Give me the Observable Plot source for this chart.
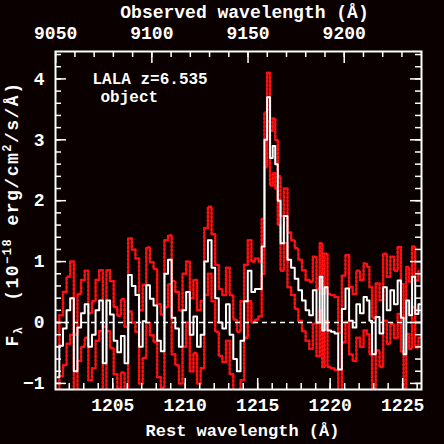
<!DOCTYPE html>
<html>
<head>
<meta charset="utf-8">
<script src="https://cdn.jsdelivr.net/npm/d3@7"></script>
<script src="https://cdn.jsdelivr.net/npm/@observablehq/plot@0.6"></script>
<style>
  html, body { margin: 0; padding: 0; background: #0a0000; }
</style>
</head>
<body>
<div id="chart"></div>
<script>
// Rest-frame wavelength of each spectral bin (Å)
const restWave = [1201.19,1201.44,1201.69,1201.94,1202.19,1202.44,1202.69,1202.94,1203.19,1203.44,
  1203.69,1203.94,1204.19,1204.44,1204.69,1204.94,1205.19,1205.44,1205.69,1205.94,
  1206.19,1206.44,1206.69,1206.94,1207.19,1207.44,1207.69,1207.94,1208.19,1208.44,
  1208.69,1208.94,1209.19,1209.44,1209.69,1209.94,1210.19,1210.44,1210.69,1210.94,
  1211.19,1211.44,1211.69,1211.94,1212.19,1212.44,1212.69,1212.94,1213.19,1213.44,
  1213.69,1213.94,1214.19,1214.44,1214.69,1214.94,1215.17,1215.38,1215.55,1215.75,
  1215.95,1216.12,1216.30,1216.47,1216.68,1216.93,1217.18,1217.43,1217.68,1217.93,
  1218.18,1218.43,1218.68,1218.93,1219.18,1219.38,1219.53,1219.70,1219.93,1220.18,
  1220.43,1220.68,1220.93,1221.18,1221.43,1221.68,1221.93,1222.18,1222.43,1222.63,
  1222.78,1223.00,1223.28,1223.53,1223.78,1224.03,1224.28,1224.53,1224.78,1224.98,
  1225.15,1225.35,1225.55,1225.75,1225.98,1226.20];
// Flux density (10^-18 erg/cm^2/s/Å)
const flux = [-0.9,-0.38,-0.1,0.2,0.4,-0.8,-0.08,0.15,0.3,-0.4,
  -0.2,0.2,0.36,-0.67,0.36,0.13,-0.3,-0.49,-0.22,-0.67,
  0.78,0.6,0.45,-0.4,0.02,0.61,0.39,0.28,-0.3,-0.47,
  0.8,1.03,0.08,-0.1,-0.4,0.2,0.5,-0.2,0.1,-0.4,
  -0.2,1.0,1.35,0.9,0.4,0.0,-0.1,0.3,-0.2,-0.6,
  -0.8,-0.3,0.35,0.85,0.5,0.55,0.55,1.25,3.0,3.7,
  2.7,2.9,2.6,2.0,1.3,1.75,1.03,0.9,0.72,0.53,
  0.36,0.2,0.12,0.53,0.0,0.75,-0.13,0.58,-0.13,-0.15,
  -0.18,-0.77,0.22,0.56,0.03,-0.08,0.3,0.15,0.42,0.36,
  0.03,-0.52,0.09,-0.18,0.58,0.2,0.53,0.3,0.69,0.08,
  -0.52,0.36,0.12,0.75,0.14,0.3];
// 1-sigma uncertainty per bin
const fluxErr = [0.5,0.5,0.6,0.55,0.6,0.6,0.55,0.55,0.55,0.55,
  0.55,0.5,0.5,0.6,0.5,0.55,0.55,0.6,0.6,0.6,
  0.6,0.6,0.6,0.6,0.6,0.62,0.6,0.6,0.6,0.6,
  0.55,0.4,0.6,0.6,0.6,0.6,0.5,0.6,0.6,0.6,
  0.55,0.55,0.55,0.55,0.55,0.55,0.55,0.6,0.65,0.65,
  0.65,0.65,0.6,0.5,0.5,0.5,0.45,0.45,0.45,0.4,
  0.45,0.45,0.4,0.4,0.45,0.45,0.45,0.45,0.5,0.5,
  0.5,0.5,0.55,0.55,0.55,0.55,0.6,0.55,0.6,0.6,
  0.6,0.6,0.55,0.55,0.55,0.55,0.55,0.55,0.55,0.55,
  0.55,0.6,0.55,0.55,0.55,0.55,0.55,0.55,0.55,0.55,
  0.6,0.55,0.55,0.5,0.55,0.55];

const redshiftFactor = 7.535; // 1 + z, z = 6.535
const restMajorTicks = [1205, 1210, 1215, 1220, 1225];
const restMinorTicks = d3.range(1202, 1227, 1);
const obsMajorTicks = [9050, 9100, 9150, 9200];
const obsMinorTicks = d3.range(9060, 9240, 10);
const yMajorTicks = [-1, 0, 1, 2, 3, 4];
const yMinorTicks = d3.range(-1, 4.5, 0.2);

const spectrum = restWave.map((w, i) => ({rest: w, flux: flux[i], err: fluxErr[i]}));

const W = 444, H = 444, mL = 55, mR = 23, mT = 51, mB = 55;
const plotW = W - mL - mR, plotH = H - mT - mB;
const font = "'Liberation Mono', 'DejaVu Sans Mono', monospace";
const white = "white";
const red = "#ff1010";

const chart = Plot.plot({
  width: W, height: H,
  marginLeft: mL, marginRight: mR, marginTop: mT, marginBottom: mB,
  style: {background: "#0a0000", color: white, fontFamily: font, fontWeight: "bold"},
  x: {domain: [1201.05, 1226.3], axis: null},
  y: {domain: [-1.1, 4.45], axis: null},
  marks: [
    Plot.line(spectrum, {x: "rest", y: d => d.flux + d.err, curve: "step", stroke: red, strokeWidth: 2.5, strokeDasharray: "2,2", clip: true}),
    Plot.line(spectrum, {x: "rest", y: d => d.flux - d.err, curve: "step", stroke: red, strokeWidth: 2.5, strokeDasharray: "2,2", clip: true}),
    Plot.ruleY([0], {stroke: white, strokeWidth: 1.5, strokeDasharray: "5,4"}),
    Plot.line(spectrum, {x: "rest", y: "flux", curve: "step", stroke: white, strokeWidth: 2, clip: true}),
    // inward ticks
    Plot.ruleX(restMinorTicks, {stroke: white, strokeWidth: 1.5, insetTop: plotH - 6}),
    Plot.ruleX(restMajorTicks, {stroke: white, strokeWidth: 1.5, insetTop: plotH - 11}),
    Plot.ruleX(obsMinorTicks, {x: d => d / redshiftFactor, stroke: white, strokeWidth: 1.5, insetBottom: plotH - 6}),
    Plot.ruleX(obsMajorTicks, {x: d => d / redshiftFactor, stroke: white, strokeWidth: 1.5, insetBottom: plotH - 12}),
    Plot.ruleY(yMinorTicks, {stroke: white, strokeWidth: 1.5, insetRight: plotW - 6}),
    Plot.ruleY(yMajorTicks, {stroke: white, strokeWidth: 1.5, insetRight: plotW - 11}),
    Plot.ruleY(yMinorTicks, {stroke: white, strokeWidth: 1.5, insetLeft: plotW - 6}),
    Plot.ruleY(yMajorTicks, {stroke: white, strokeWidth: 1.5, insetLeft: plotW - 11}),
    Plot.frame({stroke: white, strokeWidth: 2}),
    // tick labels
    Plot.text(restMajorTicks, {x: d => d, frameAnchor: "bottom", lineAnchor: "middle", dy: 16, text: d => String(d), fill: white, fontSize: 18}),
    Plot.text(obsMajorTicks, {x: d => d / redshiftFactor, frameAnchor: "top", lineAnchor: "middle", dy: -18, text: d => String(d), fill: white, fontSize: 18}),
    Plot.text(yMajorTicks, {y: d => d, frameAnchor: "left", lineAnchor: "middle", dx: -11, textAnchor: "end", text: d => d < 0 ? "\u2212" + Math.abs(d) : String(d), fill: white, fontSize: 18}),
    // axis titles
    Plot.text(["Observed wavelength (Å)"], {frameAnchor: "top", lineAnchor: "middle", dx: 6, dy: -39, text: d => d, fill: white, fontSize: 18}),
    Plot.text(["Rest wavelength (Å)"], {frameAnchor: "bottom", lineAnchor: "middle", dx: 4, dy: 41, text: d => d, fill: white, fontSize: 17}),
    // annotation
    Plot.text(["LALA z=6.535"], {frameAnchor: "top-left", lineAnchor: "middle", dx: 37, dy: 27, textAnchor: "start", text: d => d, fill: white, fontSize: 16}),
    Plot.text(["object"], {frameAnchor: "top-left", lineAnchor: "middle", dx: 45, dy: 45, textAnchor: "start", text: d => d, fill: white, fontSize: 16})
  ]
});

// y-axis title with sub/superscripts
const svg = d3.select(chart);
const yl = svg.append("text")
  .attr("transform", "translate(18,214) rotate(-90)")
  .attr("text-anchor", "middle")
  .attr("fill", white)
  .attr("font-family", font)
  .attr("font-weight", "bold")
  .attr("font-size", 18)
  .attr("letter-spacing", 1.5);
yl.append("tspan").text("F");
yl.append("tspan").attr("font-size", 12).attr("dy", 4).text("λ");
yl.append("tspan").attr("dy", -4).text("  (10");
yl.append("tspan").attr("font-size", 12).attr("dy", -7).text("\u221218");
yl.append("tspan").attr("dy", 7).text(" erg/cm");
yl.append("tspan").attr("font-size", 12).attr("dy", -7).text("2");
yl.append("tspan").attr("dy", 7).text("/s/Å)");

document.getElementById("chart").appendChild(chart);
</script>
</body>
</html>
